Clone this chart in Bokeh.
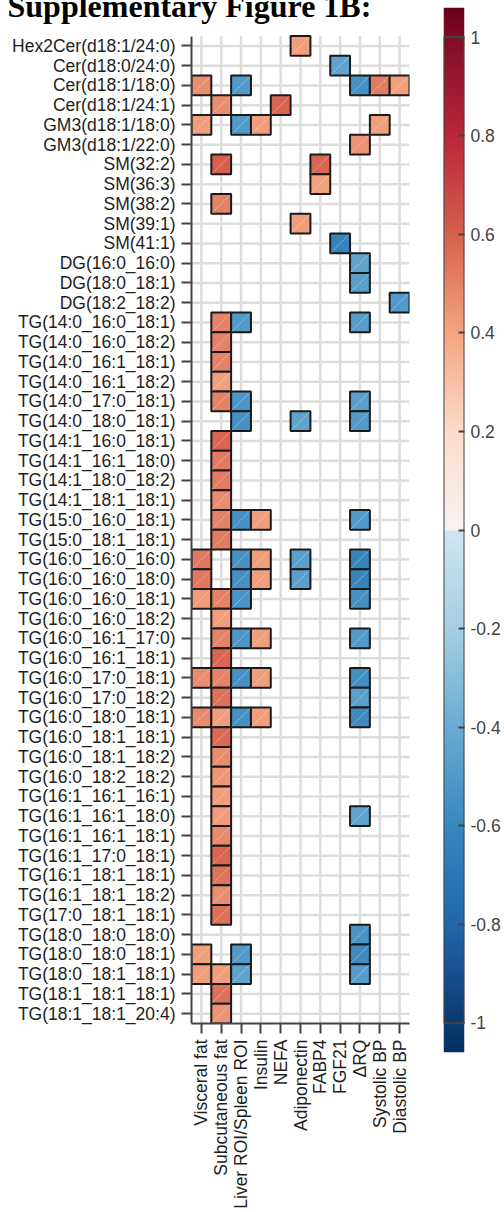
import math
import numpy as np
from bokeh.plotting import figure
from bokeh.models import ColumnDataSource, FixedTicker, LinearColorMapper, Range1d, NumeralTickFormatter
from bokeh.layouts import row
from bokeh.transform import linear_cmap
from bokeh.embed import file_html
from bokeh.resources import INLINE

title_text = "Supplementary Figure 1B:"

columns = ["Visceral fat", "Subcutaneous fat", "Liver ROI/Spleen ROI", "Insulin", "NEFA",
           "Adiponectin", "FABP4", "FGF21", "\u0394RQ", "Systolic BP", "Diastolic BP"]

lipids = [
    "Hex2Cer(d18:1/24:0)", "Cer(d18:0/24:0)", "Cer(d18:1/18:0)", "Cer(d18:1/24:1)",
    "GM3(d18:1/18:0)", "GM3(d18:1/22:0)", "SM(32:2)", "SM(36:3)", "SM(38:2)", "SM(39:1)",
    "SM(41:1)", "DG(16:0_16:0)", "DG(18:0_18:1)", "DG(18:2_18:2)",
    "TG(14:0_16:0_18:1)", "TG(14:0_16:0_18:2)", "TG(14:0_16:1_18:1)", "TG(14:0_16:1_18:2)",
    "TG(14:0_17:0_18:1)", "TG(14:0_18:0_18:1)", "TG(14:1_16:0_18:1)", "TG(14:1_16:1_18:0)",
    "TG(14:1_18:0_18:2)", "TG(14:1_18:1_18:1)", "TG(15:0_16:0_18:1)", "TG(15:0_18:1_18:1)",
    "TG(16:0_16:0_16:0)", "TG(16:0_16:0_18:0)", "TG(16:0_16:0_18:1)", "TG(16:0_16:0_18:2)",
    "TG(16:0_16:1_17:0)", "TG(16:0_16:1_18:1)", "TG(16:0_17:0_18:1)", "TG(16:0_17:0_18:2)",
    "TG(16:0_18:0_18:1)", "TG(16:0_18:1_18:1)", "TG(16:0_18:1_18:2)", "TG(16:0_18:2_18:2)",
    "TG(16:1_16:1_16:1)", "TG(16:1_16:1_18:0)", "TG(16:1_16:1_18:1)", "TG(16:1_17:0_18:1)",
    "TG(16:1_18:1_18:1)", "TG(16:1_18:1_18:2)", "TG(17:0_18:1_18:1)", "TG(18:0_18:0_18:0)",
    "TG(18:0_18:0_18:1)", "TG(18:0_18:1_18:1)", "TG(18:1_18:1_18:1)", "TG(18:1_18:1_20:4)",
]

# significant correlations per clinical variable (blank cells omitted)
visceral_fat = {
    "Cer(d18:1/18:0)": 0.47, "GM3(d18:1/18:0)": 0.42, "TG(16:0_16:0_16:0)": 0.53,
    "TG(16:0_16:0_18:0)": 0.53, "TG(16:0_16:0_18:1)": 0.43, "TG(16:0_17:0_18:1)": 0.47,
    "TG(16:0_18:0_18:1)": 0.48, "TG(18:0_18:0_18:1)": 0.42, "TG(18:0_18:1_18:1)": 0.42,
}
subcutaneous_fat = {
    "Cer(d18:1/24:1)": 0.47, "SM(32:2)": 0.6, "SM(38:2)": 0.5,
    "TG(14:0_16:0_18:1)": 0.5, "TG(14:0_16:0_18:2)": 0.5, "TG(14:0_16:1_18:1)": 0.5,
    "TG(14:0_16:1_18:2)": 0.41, "TG(14:0_17:0_18:1)": 0.5, "TG(14:1_16:0_18:1)": 0.58,
    "TG(14:1_16:1_18:0)": 0.52, "TG(14:1_18:0_18:2)": 0.52, "TG(14:1_18:1_18:1)": 0.47,
    "TG(15:0_16:0_18:1)": 0.5, "TG(15:0_18:1_18:1)": 0.52, "TG(16:0_16:0_18:1)": 0.5,
    "TG(16:0_16:0_18:2)": 0.42, "TG(16:0_16:1_17:0)": 0.5, "TG(16:0_16:1_18:1)": 0.58,
    "TG(16:0_17:0_18:1)": 0.5, "TG(16:0_17:0_18:2)": 0.55, "TG(16:0_18:0_18:1)": 0.42,
    "TG(16:0_18:1_18:1)": 0.57, "TG(16:0_18:1_18:2)": 0.47, "TG(16:0_18:2_18:2)": 0.44,
    "TG(16:1_16:1_16:1)": 0.42, "TG(16:1_16:1_18:0)": 0.43, "TG(16:1_16:1_18:1)": 0.48,
    "TG(16:1_17:0_18:1)": 0.58, "TG(16:1_18:1_18:1)": 0.54, "TG(16:1_18:1_18:2)": 0.47,
    "TG(17:0_18:1_18:1)": 0.55, "TG(18:0_18:1_18:1)": 0.42, "TG(18:1_18:1_18:1)": 0.55,
    "TG(18:1_18:1_20:4)": 0.45,
}
liver_spleen_roi = {
    "Cer(d18:1/18:0)": -0.5, "GM3(d18:1/18:0)": -0.5, "TG(14:0_16:0_18:1)": -0.5,
    "TG(14:0_17:0_18:1)": -0.52, "TG(14:0_18:0_18:1)": -0.55, "TG(15:0_16:0_18:1)": -0.55,
    "TG(16:0_16:0_16:0)": -0.55, "TG(16:0_16:0_18:0)": -0.55, "TG(16:0_16:0_18:1)": -0.53,
    "TG(16:0_16:1_17:0)": -0.52, "TG(16:0_17:0_18:1)": -0.55, "TG(16:0_18:0_18:1)": -0.55,
    "TG(18:0_18:0_18:1)": -0.5, "TG(18:0_18:1_18:1)": -0.45,
}
insulin = {
    "GM3(d18:1/18:0)": 0.42, "TG(15:0_16:0_18:1)": 0.42, "TG(16:0_16:0_16:0)": 0.42,
    "TG(16:0_16:0_18:0)": 0.42, "TG(16:0_16:1_17:0)": 0.42, "TG(16:0_17:0_18:1)": 0.42,
    "TG(16:0_18:0_18:1)": 0.42,
}
nefa = {"Cer(d18:1/24:1)": 0.58}
adiponectin = {
    "Hex2Cer(d18:1/24:0)": 0.42, "SM(39:1)": 0.42, "TG(14:0_18:0_18:1)": -0.44,
    "TG(16:0_16:0_16:0)": -0.46, "TG(16:0_16:0_18:0)": -0.46,
}
fabp4 = {"SM(32:2)": 0.58, "SM(36:3)": 0.41}
fgf21 = {"Cer(d18:0/24:0)": -0.44, "SM(41:1)": -0.62}
delta_rq = {
    "Cer(d18:1/18:0)": -0.55, "GM3(d18:1/22:0)": 0.45, "DG(16:0_16:0)": -0.44,
    "DG(18:0_18:1)": -0.46, "TG(14:0_16:0_18:1)": -0.48, "TG(14:0_17:0_18:1)": -0.46,
    "TG(14:0_18:0_18:1)": -0.5, "TG(15:0_16:0_18:1)": -0.5, "TG(16:0_16:0_16:0)": -0.62,
    "TG(16:0_16:0_18:0)": -0.62, "TG(16:0_16:0_18:1)": -0.55, "TG(16:0_16:1_17:0)": -0.5,
    "TG(16:0_17:0_18:1)": -0.56, "TG(16:0_17:0_18:2)": -0.46, "TG(16:0_18:0_18:1)": -0.58,
    "TG(16:1_16:1_18:0)": -0.44, "TG(18:0_18:0_18:0)": -0.53, "TG(18:0_18:0_18:1)": -0.58,
    "TG(18:0_18:1_18:1)": -0.48,
}
systolic_bp = {"Cer(d18:1/18:0)": 0.52, "GM3(d18:1/18:0)": 0.42}
diastolic_bp = {"Cer(d18:1/18:0)": 0.41, "DG(18:2_18:2)": -0.5}

column_values = [visceral_fat, subcutaneous_fat, liver_spleen_roi, insulin, nefa, adiponectin,
                 fabp4, fgf21, delta_rq, systolic_bp, diastolic_bp]

cbar_ticks = [-1, -0.8, -0.6, -0.4, -0.2, 0, 0.2, 0.4, 0.6, 0.8, 1]
cbar_low, cbar_high = -1.06, 1.06

# ---- colour map (diverging, with a step at zero as in the reference bar) ----
stop_vals = [-1.06, -1.0, -0.8, -0.6, -0.4, -0.2, -0.001, 0.0, 0.2, 0.4, 0.6, 0.8, 1.0, 1.06]
stop_cols = ["#053061", "#0c3b70", "#2166ac", "#3a87bf", "#6aacd2", "#a6cee3", "#d1e5f0",
             "#f7f4f2", "#fcdccb", "#f4a582", "#d6604d", "#b8283a", "#820c27", "#67001f"]


def _rgb(h):
    return [int(h[i:i + 2], 16) for i in (1, 3, 5)]


_rgbs = np.array([_rgb(c) for c in stop_cols], dtype=float)
_samples = np.linspace(cbar_low, cbar_high, 512)
palette = []
for s in _samples:
    r, g, b = (int(round(np.interp(s, stop_vals, _rgbs[:, k]))) for k in range(3))
    palette.append("#%02x%02x%02x" % (r, g, b))

# ---- data sources ----
xs, ys, vs = [], [], []
for ci, d in enumerate(column_values):
    for name, v in d.items():
        xs.append(ci)
        ys.append(lipids.index(name))
        vs.append(v)
xs = np.array(xs, dtype=float)
ys = np.array(ys, dtype=float)
src = ColumnDataSource(dict(x=xs, y=ys, v=vs,
                            x0=xs - 0.45, y0=ys + 0.45, x1=xs + 0.45, y1=ys - 0.45))

ncol, nrow = len(columns), len(lipids)
col_idx = list(range(ncol))
row_idx = list(range(nrow))

# ---- layout constants (page = canvas coordinates) ----
FONT = "Liberation Sans"
LBL = "17.5px"
top_b = 7                      # frame top (colour bar top)
left_b, frame_w, right_b = 191, 218, 24
row_px = 19.75
frame_h = 1016                 # frame bottom at 1023
bottom_b = 1212 - top_b - frame_h

p = figure(frame_width=frame_w, frame_height=frame_h,
           min_border_left=left_b, min_border_right=right_b,
           min_border_top=top_b, min_border_bottom=bottom_b,
           x_range=Range1d(-0.5, ncol - 0.5),
           y_range=Range1d(nrow - 0.5, nrow - 0.5 - frame_h / row_px),
           title=title_text,
           output_backend="svg", toolbar_location=None, tools="")
p.outline_line_color = None
p.background_fill_color = "white"
p.border_fill_color = "white"
p.xgrid.visible = False
p.ygrid.visible = False

p.title.align = "left"
p.title.vertical_align = "top"
p.title.offset = -(left_b - 7)
p.title.standoff = -37
p.title.text_font = "Liberation Serif"
p.title.text_font_style = "bold"
p.title.text_font_size = "32px"
p.title.text_color = "black"

# grid lines limited to the heat-map area
p.segment(x0=col_idx, x1=col_idx, y0=[-0.5] * ncol, y1=[nrow - 0.5] * ncol,
          line_color="#dddddd", line_width=2.5)
p.segment(x0=[-0.5] * nrow, x1=[ncol - 0.5] * nrow, y0=row_idx, y1=row_idx,
          line_color="#dddddd", line_width=2.5)

p.xaxis.ticker = FixedTicker(ticks=col_idx)
p.xaxis.major_label_overrides = {i: c for i, c in enumerate(columns)}
p.xaxis.major_label_orientation = math.pi / 2
p.yaxis.ticker = FixedTicker(ticks=row_idx)
p.yaxis.major_label_overrides = {i: n for i, n in enumerate(lipids)}
p.yaxis.bounds = (-0.5, nrow - 0.5)
for ax in (p.xaxis[0], p.yaxis[0]):
    ax.axis_line_color = "#444444"
    ax.axis_line_width = 2
    ax.major_tick_line_color = "#444444"
    ax.major_tick_line_width = 2
    ax.major_tick_out = 10
    ax.major_tick_in = 0
    ax.minor_tick_line_color = None
    ax.major_label_standoff = 6
    ax.major_label_text_font = FONT
    ax.major_label_text_font_size = LBL
    ax.major_label_text_color = "#1e1e1e"

p.rect(x="x", y="y", width=1, height=1, source=src,
       fill_color=linear_cmap("v", palette, cbar_low, cbar_high),
       line_color="#1a1a1a", line_width=2)
p.segment(x0="x0", y0="y0", x1="x1", y1="y1", source=src,
          line_color="white", line_alpha=0.45, line_width=1, line_dash="2 1")

# ---- colour bar figure ----
cb_fw, cb_fh = 21, 1045
cb = figure(frame_width=cb_fw, frame_height=cb_fh,
            min_border_left=10, min_border_right=40, min_border_top=top_b,
            min_border_bottom=1212 - top_b - cb_fh,
            x_range=Range1d(0, 1), y_range=Range1d(cbar_low, cbar_high),
            x_axis_location=None, y_axis_location="right",
            output_backend="svg", toolbar_location=None, tools="")
cb.outline_line_color = None
cb.grid.visible = False
mapper = LinearColorMapper(palette=palette, low=cbar_low, high=cbar_high)
grad = np.linspace(cbar_low, cbar_high, cb_fh).reshape(-1, 1)
cb.image(image=[grad], x=0, y=cbar_low, dw=1, dh=cbar_high - cbar_low, color_mapper=mapper)
cb.quad(left=0, right=1, bottom=cbar_ticks[0], top=cbar_ticks[-1],
        fill_color=None, line_color="#444444", line_width=2)
ya = cb.yaxis[0]
ya.ticker = FixedTicker(ticks=cbar_ticks)
ya.formatter = NumeralTickFormatter(format="0.[0]")
ya.axis_line_color = None
ya.major_tick_in = 6
ya.major_tick_out = 0
ya.major_tick_line_color = "#444444"
ya.major_tick_line_width = 2
ya.minor_tick_line_color = None
ya.major_label_standoff = 6
ya.major_label_text_font = FONT
ya.major_label_text_font_size = LBL
ya.major_label_text_color = "#444444"

layout = row(p, cb)
open("out.html", "w").write(file_html(layout, INLINE))
